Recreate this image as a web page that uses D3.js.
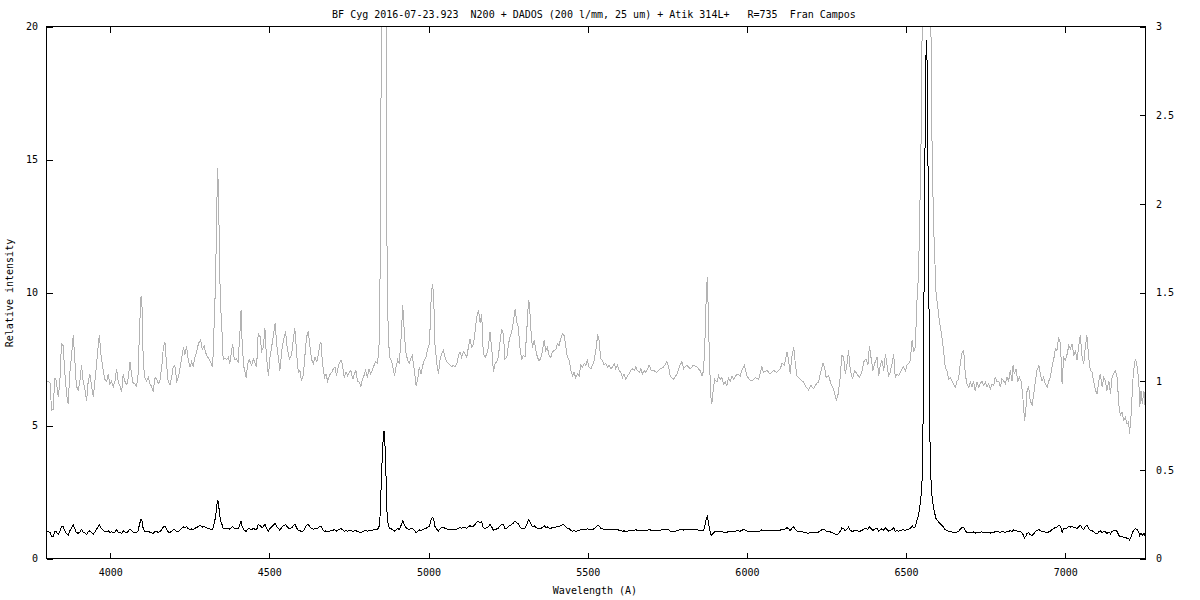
<!DOCTYPE html>
<html><head><meta charset="utf-8">
<script src="https://cdn.jsdelivr.net/npm/d3@7"></script>
<style>
body{margin:0;background:#fff}
svg text{font-family:"DejaVu Sans Mono",monospace;font-size:10px;fill:#000}
</style>
</head><body>
<svg id="chart" width="1200" height="600"></svg>
<script>
const titleText = "BF Cyg 2016-07-23.923  N200 + DADOS (200 l/mm, 25 um) + Atik 314L+   R=735  Fran Campos";
const xLabel = "Wavelength (A)";
const yLabel = "Relative intensity";
const xTicks = [4000, 4500, 5000, 5500, 6000, 6500, 7000];
const yTicks = [0, 5, 10, 15, 20];
const y2Ticks = [0, 0.5, 1, 1.5, 2, 2.5, 3];

const wavelength = [
3800,3805,3811,3816,3821,3826,3831,3837,3842,3847,3852,3858,3863,3868,3873,3879,3884,3889,3894,3900,
3905,3910,3915,3921,3926,3931,3936,3942,3947,3952,3957,3962,3966,3971,3978,3983,3989,3994,3999,4004,
4010,4015,4020,4025,4031,4036,4041,4046,4052,4057,4062,4067,4072,4078,4083,4088,4092,4097,4100,4104,
4109,4114,4120,4125,4130,4135,4141,4146,4151,4156,4162,4167,4172,4177,4182,4188,4193,4198,4203,4209,
4214,4219,4224,4230,4235,4240,4245,4251,4256,4261,4266,4271,4277,4284,4289,4295,4300,4305,4310,4317,
4322,4326,4330,4334,4337,4340,4343,4346,4350,4355,4360,4366,4371,4376,4381,4385,4390,4397,4402,4408,
4411,4415,4420,4427,4432,4437,4444,4450,4455,4460,4465,4471,4476,4481,4486,4491,4497,4502,4507,4512,
4518,4523,4528,4533,4539,4544,4551,4556,4563,4570,4575,4580,4586,4591,4596,4601,4607,4612,4617,4622,
4628,4633,4638,4643,4649,4654,4659,4662,4667,4673,4678,4683,4691,4696,4701,4706,4711,4717,4725,4730,
4735,4741,4746,4751,4756,4762,4767,4772,4777,4783,4787,4792,4797,4802,4808,4813,4818,4823,4829,4834,
4839,4844,4847,4850,4852,4855,4857.5,4860,4862.5,4865,4867,4869,4871,4877,4882,4887,4893,4898,4903,4908,
4914,4919,4923,4928,4934,4939,4944,4949,4954,4961,4966,4971,4976,4982,4987,4992,4997,5003,5008,5012,
5016,5020,5026,5031,5036,5041,5047,5052,5057,5062,5068,5073,5078,5083,5089,5094,5099,5104,5109,5115,
5120,5125,5130,5136,5141,5146,5151,5157,5162,5167,5172,5178,5183,5188,5193,5199,5204,5209,5214,5219,
5225,5230,5235,5240,5246,5251,5256,5261,5267,5272,5277,5282,5288,5293,5298,5303,5308,5314,5317,5321,
5326,5332,5337,5342,5347,5352,5358,5363,5368,5373,5379,5384,5389,5394,5400,5405,5410,5415,5421,5426,
5431,5436,5442,5447,5452,5457,5462,5468,5473,5478,5483,5489,5494,5499,5504,5510,5515,5520,5525,5531,
5535,5541,5546,5551,5557,5562,5567,5573,5578,5583,5588,5593,5599,5604,5609,5614,5620,5625,5630,5635,
5641,5646,5651,5656,5662,5667,5672,5677,5682,5688,5693,5700,5707,5717,5728,5738,5749,5754,5759,5769,
5780,5790,5796,5801,5811,5822,5832,5843,5853,5859,5864,5869,5873,5876,5879,5883,5887,5890,5894,5899,
5906,5911,5916,5921,5927,5932,5937,5942,5948,5953,5958,5969,5979,5986,5992,6000,6007,6016,6026,6037,
6047,6052,6063,6073,6084,6094,6105,6110,6118,6126,6131,6136,6141,6147,6152,6157,6162,6168,6178,6186,
6194,6201,6210,6218,6225,6233,6239,6244,6249,6257,6264,6272,6281,6287,6293,6298,6304,6309,6314,6319,
6325,6332,6338,6346,6353,6361,6367,6374,6380,6385,6391,6396,6403,6409,6414,6419,6424,6430,6435,6440,
6445,6450,6456,6461,6466,6471,6477,6482,6487,6492,6498,6503,6508,6513,6519,6524,6529,6534,6539,6542,
6547,6550,6552,6554,6556,6558,6560,6562,6564,6565.5,6567,6569,6571,6573,6575,6577,6581,6586,6594,6604,
6613,6618,6623,6628,6634,6639,6644,6649,6655,6660,6665,6670,6676,6681,6686,6691,6697,6702,6707,6712,
6717,6723,6728,6733,6738,6744,6749,6754,6759,6765,6770,6775,6780,6786,6791,6796,6801,6807,6812,6817,
6822,6827,6833,6836,6840,6845,6851,6856,6861,6866,6872,6876,6880,6885,6890,6896,6901,6906,6911,6917,
6922,6927,6932,6937,6943,6948,6953,6958,6964,6969,6974,6979,6985,6990,6995,7000,7006,7011,7016,7021,
7027,7032,7037,7042,7047,7053,7058,7063,7068,7074,7079,7084,7089,7095,7100,7105,7110,7116,7121,7126,
7131,7137,7142,7147,7152,7157,7163,7168,7173,7178,7184,7189,7194,7199,7202,7207,7212,7217,7221,7226,
7231,7234,7238,7242,7247,7251
];

const flux = [
1.0,1.0,0.99,0.835,0.84,1.02,1.0,0.91,1.0,1.21,1.2,1.04,0.93,0.87,1.04,1.15,1.26,1.12,0.97,0.95,
1.0,1.09,1.0,0.95,0.89,1.0,1.04,0.97,0.91,1.0,1.09,1.19,1.26,1.15,1.06,1.01,1.0,1.04,0.985,1.0,
0.97,1.0,1.07,1.0,0.97,0.94,1.04,1.0,0.98,1.02,1.11,1.04,0.99,0.985,0.97,1.04,1.29,1.48,1.42,1.1,
1.02,1.0,1.02,0.985,0.97,0.94,1.02,1.01,0.985,1.0,1.08,1.19,1.22,1.1,1.0,0.98,1.02,1.08,1.09,1.0,
1.02,1.07,1.12,1.19,1.15,1.2,1.12,1.08,1.11,1.08,1.135,1.16,1.21,1.235,1.18,1.2,1.16,1.14,1.125,1.1,
1.08,1.29,1.5,1.85,2.2,2.1,1.75,1.45,1.33,1.12,1.13,1.12,1.135,1.1,1.17,1.21,1.12,1.125,1.11,1.29,
1.40,1.19,1.08,1.02,1.1,1.12,1.09,1.125,1.1,1.08,1.27,1.25,1.17,1.19,1.3,1.135,1.03,1.135,1.19,1.25,
1.327,1.21,1.135,1.06,1.17,1.23,1.28,1.19,1.125,1.15,1.23,1.30,1.15,1.05,1.06,1.0,1.04,1.15,1.25,1.28,
1.19,1.12,1.1,1.135,1.11,1.15,1.21,1.22,1.1,1.02,1.04,1.0,1.04,1.05,1.07,1.08,1.03,1.09,1.12,1.09,
1.02,1.05,1.03,1.05,1.06,1.01,1.04,1.06,1.0,0.995,0.966,1.01,1.03,1.06,1.02,1.07,1.04,1.06,1.09,1.11,
1.1,1.17,1.4,2.3,3.1,3.9,4.5,4.8,4.5,3.7,2.9,1.9,1.42,1.135,1.12,1.09,1.03,1.08,1.12,1.1,
1.25,1.427,1.305,1.17,1.12,1.1,1.125,1.145,1.08,0.976,1.01,1.08,1.04,1.09,1.12,1.135,1.18,1.21,1.455,1.549,
1.49,1.21,1.1,1.04,1.12,1.154,1.173,1.135,1.11,1.1,1.09,1.08,1.09,1.08,1.1,1.145,1.165,1.135,1.165,1.154,
1.135,1.19,1.24,1.19,1.21,1.276,1.36,1.398,1.33,1.38,1.154,1.135,1.154,1.19,1.276,1.173,1.05,1.1,1.11,1.135,
1.23,1.295,1.267,1.125,1.135,1.21,1.248,1.276,1.342,1.408,1.333,1.305,1.173,1.125,1.145,1.135,1.267,1.455,1.436,1.305,
1.19,1.23,1.173,1.135,1.117,1.125,1.173,1.23,1.173,1.19,1.145,1.135,1.165,1.173,1.18,1.211,1.2,1.24,1.267,1.257,
1.2,1.135,1.117,1.06,1.03,1.05,1.02,1.04,1.03,1.09,1.08,1.1,1.09,1.117,1.08,1.07,1.09,1.117,1.165,1.257,
1.24,1.125,1.117,1.09,1.1,1.08,1.09,1.07,1.08,1.1,1.07,1.09,1.06,1.05,1.02,1.04,1.01,1.03,1.04,1.06,
1.07,1.06,1.08,1.06,1.05,1.07,1.04,1.06,1.05,1.07,1.09,1.06,1.06,1.05,1.07,1.08,1.11,1.08,1.03,1.01,
1.04,1.09,1.11,1.07,1.09,1.07,1.09,1.08,1.06,1.03,1.06,1.27,1.53,1.586,1.36,1.08,0.91,0.872,0.95,1.01,
0.995,1.03,1.01,1.02,0.985,0.995,0.976,1.02,1.0,1.03,1.01,1.04,1.03,1.07,1.09,1.03,1.01,1.0,1.02,1.01,
1.08,1.05,1.06,1.04,1.06,1.05,1.07,1.1,1.09,1.164,1.117,1.04,1.135,1.192,1.1,1.03,1.02,1.01,0.995,0.966,
0.95,0.976,0.957,0.985,0.995,1.06,1.1,1.08,1.02,1.03,0.985,0.957,0.89,0.93,1.02,1.145,1.135,1.04,1.09,1.173,
1.06,1.01,1.06,1.04,1.02,1.05,1.11,1.125,1.09,1.2,1.117,1.06,1.11,1.135,1.03,1.09,1.117,1.06,1.154,1.09,
1.03,1.05,1.1,1.154,1.02,1.04,1.03,1.05,1.07,1.08,1.06,1.09,1.1,1.117,1.23,1.164,1.19,1.45,1.6,1.85,
2.35,2.9,3.7,6.0,9.5,12.7,16.5,18.7,19.5,18.9,17.9,14.5,11.1,7.6,4.5,3.2,2.4,1.9,1.5,1.35,
1.24,1.17,1.08,1.06,1.013,1.02,1.0,0.985,0.966,1.0,1.013,1.098,1.164,1.173,1.04,0.985,0.966,0.995,0.966,1.0,
0.947,0.995,0.966,0.985,1.0,0.975,0.995,0.966,0.985,0.957,0.985,0.975,1.022,0.995,1.0,0.966,1.013,1.0,0.985,1.022,
1.0,1.06,1.0,1.088,1.04,1.07,1.0,1.022,1.0,0.929,0.778,0.835,0.947,0.966,0.891,0.863,0.929,1.0,1.06,1.088,
1.04,1.0,1.022,0.985,0.966,1.0,1.022,1.079,1.126,1.183,1.173,1.248,1.21,0.985,1.135,1.117,1.154,1.201,1.183,1.21,
1.145,1.173,1.117,1.192,1.258,1.135,1.098,1.192,1.258,1.126,1.06,1.051,1.0,0.947,0.929,1.0,1.041,0.966,1.022,1.0,
0.947,1.0,0.929,1.022,1.041,1.06,1.022,0.872,0.807,0.826,0.778,0.797,0.759,0.769,0.703,0.816,1.0,1.098,1.126,1.079,
1.0,0.854,0.947,0.872,0.947,0.854
];

const spectrum = wavelength.map((w, i) => ({w: w, f: flux[i]}));

const svg = d3.select("#chart");
const L = 46.5, R = 1145.5, T = 26.5, B = 558.5;

const x = d3.scaleLinear().domain([3800, 7252]).range([L, R]);
const y = d3.scaleLinear().domain([0, 20]).range([B, T]);
const y2 = d3.scaleLinear().domain([0, 3]).range([B, T]);

svg.append("defs").append("clipPath").attr("id", "plotclip")
  .append("rect").attr("x", L).attr("y", T).attr("width", R - L).attr("height", B - T);

const plot = svg.append("g").attr("clip-path", "url(#plotclip)");

plot.append("path").datum(spectrum)
  .attr("fill", "none").attr("stroke", "#b3b3b3").attr("stroke-width", 1)
  .attr("shape-rendering", "crispEdges")
  .attr("d", d3.line().x(d => x(d.w)).y(d => y2(d.f)));

plot.append("path").datum(spectrum)
  .attr("fill", "none").attr("stroke", "#000").attr("stroke-width", 1)
  .attr("shape-rendering", "crispEdges")
  .attr("d", d3.line().x(d => x(d.w)).y(d => y(d.f)));

function styleAxis(g) {
  g.select(".domain").remove();
  g.selectAll(".tick line").attr("stroke", "#000").attr("shape-rendering", "crispEdges");
  g.selectAll(".tick text").attr("font-family", "DejaVu Sans Mono, monospace").attr("font-size", 10).attr("fill", "#000");
}

svg.append("g").attr("transform", `translate(0,${B})`)
  .call(d3.axisBottom(x).tickValues(xTicks).tickSize(-6).tickPadding(10).tickFormat(d3.format("d")))
  .call(styleAxis);
svg.append("g").attr("transform", `translate(0,${T})`)
  .call(d3.axisTop(x).tickValues(xTicks).tickSize(-6).tickFormat(""))
  .call(styleAxis);
svg.append("g").attr("transform", `translate(${L},0)`)
  .call(d3.axisLeft(y).tickValues(yTicks).tickSize(-6).tickPadding(8.5).tickFormat(d3.format("d")))
  .call(styleAxis);
svg.append("g").attr("transform", `translate(${R},0)`)
  .call(d3.axisRight(y2).tickValues(y2Ticks).tickSize(-6).tickPadding(10.5).tickFormat(d => String(d)))
  .call(styleAxis);

svg.append("rect").attr("x", L).attr("y", T).attr("width", R - L).attr("height", B - T)
  .attr("fill", "none").attr("stroke", "#000").attr("stroke-width", 1).attr("shape-rendering", "crispEdges");

svg.append("text").attr("x", 594).attr("y", 18).attr("text-anchor", "middle")
  .style("white-space", "pre").attr("xml:space", "preserve").text(titleText);
svg.append("text").attr("x", 595).attr("y", 594).attr("text-anchor", "middle").text(xLabel);
svg.append("text").attr("transform", "translate(13,293) rotate(-90)").attr("text-anchor", "middle").text(yLabel);
</script>
</body></html>
